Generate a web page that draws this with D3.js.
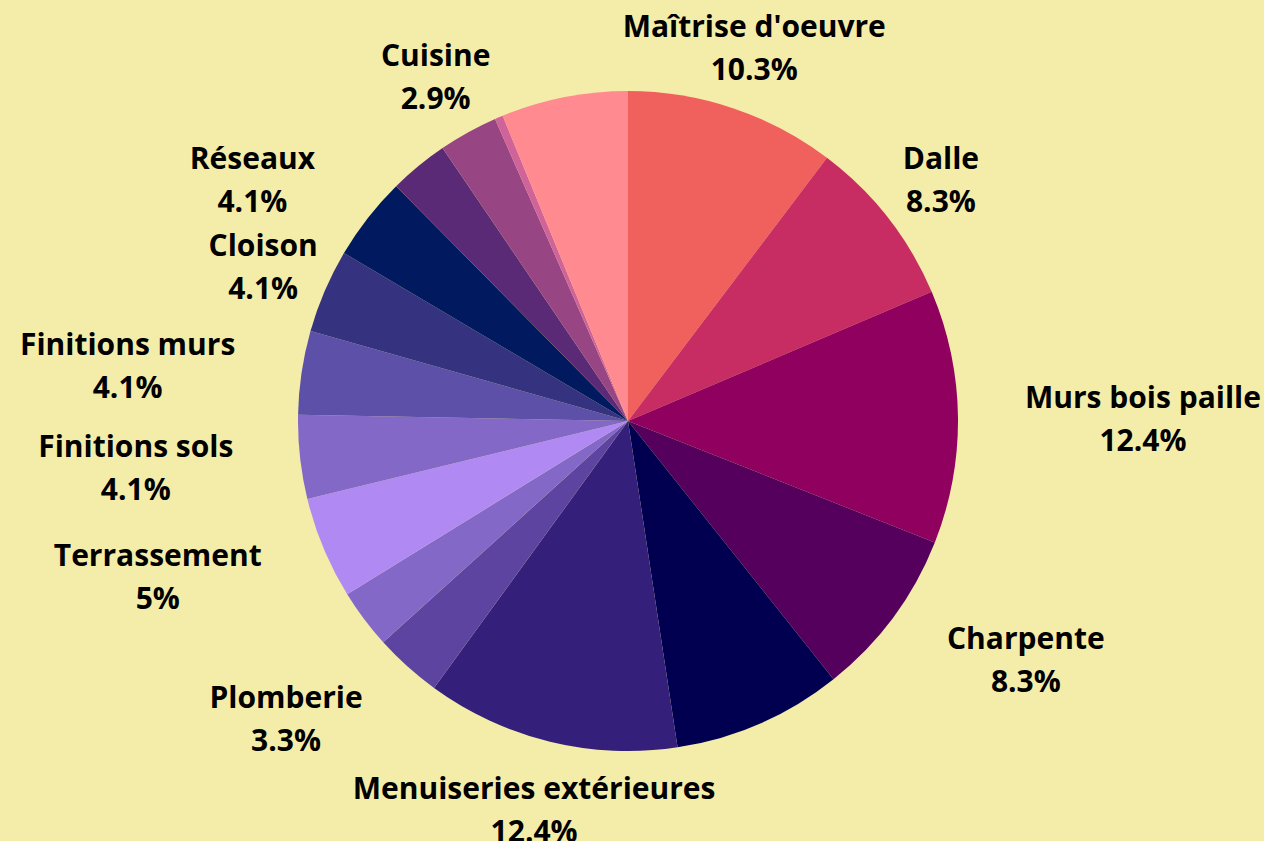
<!DOCTYPE html>
<html>
<head>
<meta charset="utf-8">
<script src="https://cdn.jsdelivr.net/npm/d3@7"></script>
<style>
  body { margin: 0; background: #f4eda9; }
  svg { display: block; }
</style>
</head>
<body>
<div id="container"></div>
<script>
// slices, clockwise from the top
// null label = slice has no label in the chart
let labels = ["Maîtrise d'oeuvre", "Dalle", "Murs bois paille", "Charpente", null,
  "Menuiseries extérieures", "Plomberie", null, "Terrassement", "Finitions sols",
  "Finitions murs", "Cloison", "Réseaux", null, "Cuisine", null, null];
let values = [10.3, 8.3, 12.4, 8.3, 8.3, 12.4, 3.3, 2.9, 5, 4.1, 4.1, 4.1, 4.1, 2.9, 2.9, 0.4, 6.2];
let colors = ["#f0605d", "#c72c62", "#8f005f", "#56005e", "#010050", "#34207a", "#5c44a0",
  "#8468c8", "#b08af2", "#8468c8", "#5c50a8", "#353380", "#011a5f", "#5a2a76", "#984584",
  "#d0649a", "#ff8a90"];

let w = 1264;
let h = 841;
let cx = 628, cy = 421;
let radius = 330;
let labelRadius = 397;

let data = values.map(function(v, i){
  return { label: labels[i], value: v, color: colors[i] };
});

let viz = d3.select("#container")
  .append("svg")
    .attr("width", w)
    .attr("height", h)
;
viz.append("rect").attr("width", w).attr("height", h).attr("fill", "#f4eda9");

let g = viz.append("g").attr("transform", "translate(" + cx + "," + cy + ")");

let pie = d3.pie().sort(null).value(function(d){ return d.value; });
let arcs = pie(data);
let arcMaker = d3.arc().innerRadius(0).outerRadius(radius);

g.selectAll("path.slice").data(arcs).enter()
  .append("path")
    .attr("class", "slice")
    .attr("d", arcMaker)
    .attr("fill", function(d){ return d.data.color; })
;

// labels: centred on a point outside the pie, pushed to the side if they would cover it
let labelled = arcs.filter(function(d){ return d.data.label !== null; });
let lg = g.selectAll("g.label").data(labelled).enter().append("g").attr("class", "label");

lg.each(function(d){
  let sel = d3.select(this);
  let a = (d.startAngle + d.endAngle) / 2;
  let px = labelRadius * Math.sin(a);
  let py = -labelRadius * Math.cos(a);
  let t1 = sel.append("text").text(d.data.label).attr("y", py - 8);
  let t2 = sel.append("text").text(d.data.value + "%").attr("y", py + 35);
  sel.selectAll("text")
    .attr("font-family", "'Open Sans', sans-serif")
    .attr("font-weight", 700)
    .attr("font-size", 30)
    .attr("fill", "#000")
    .attr("text-anchor", "middle");
  let tw = Math.max(t1.node().getComputedTextLength(), t2.node().getComputedTextLength());
  let hw = tw / 2;
  // nearest point of the centred box to the pie centre
  let nx = Math.max(px - hw, Math.min(0, px + hw));
  let ny = Math.max(py - 30, Math.min(0, py + 35));
  let x = px;
  if (Math.sqrt(nx * nx + ny * ny) < radius) {
    x = px > 0 ? px + hw : px - hw;
  }
  sel.selectAll("text").attr("x", x);
});
</script>
</body>
</html>
